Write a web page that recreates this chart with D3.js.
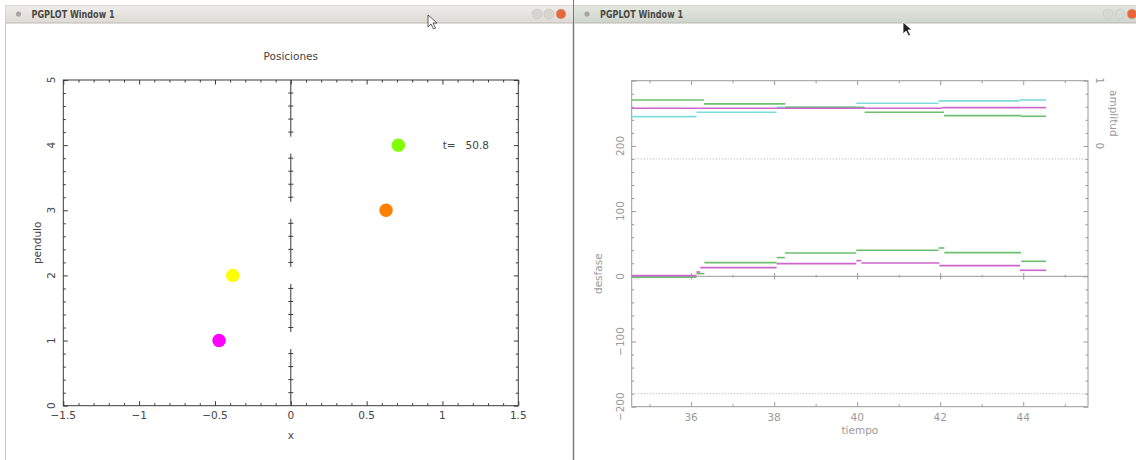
<!DOCTYPE html>
<html>
<head>
<meta charset="utf-8">
<script src="https://cdn.jsdelivr.net/npm/d3@7"></script>
<style>
  body { margin: 0; background: #fff; }
  text { font-family: "DejaVu Sans", sans-serif; }
</style>
</head>
<body>
<svg id="fig" width="1136" height="460"></svg>
<script>
// ---------- datos: ventana de posiciones ----------
const pendulos = [1, 2, 3, 4];
const posicionX = [-0.473, -0.383, 0.628, 0.709];
const coloresPendulo = ["#ff00ff", "#ffff00", "#ff8000", "#80ff00"];
const tiempoActual = 50.8;
const ticksX = [-1.5, -1, -0.5, 0, 0.5, 1, 1.5];
const ticksY = [0, 1, 2, 3, 4, 5];

// ---------- datos: ventana de desfase / amplitud ----------
// cada serie: limites de los tramos (tiempo) y valor del tramo
const tAmpVerde = [34.5, 36.31, 38.27, 40.18, 42.09, 43.95, 44.55];
const ampVerde  = [0.705, 0.644, 0.592, 0.515, 0.465, 0.454];
const tAmpCian  = [34.5, 36.13, 38.06, 39.98, 41.96, 43.91, 44.55];
const ampCian   = [0.449, 0.515, 0.592, 0.653, 0.690, 0.705];
const tAmpMagenta = [34.5, 36.2, 38.15, 40.1, 42.05, 43.95, 44.55];
const ampMagenta  = [0.577, 0.577, 0.577, 0.577, 0.587, 0.587];

const tDesVerde = [34.5, 36.13, 36.32, 38.06, 38.26, 39.98, 41.96, 42.1, 43.95, 44.55];
const desVerde  = [-1.3, 4.1, 21, 28.7, 35.8, 39.9, 43.4, 36.3, 23];
const tDesMagenta = [34.5, 36.13, 36.22, 38.06, 39.98, 40.1, 41.98, 43.92, 44.55];
const desMagenta  = [1.0, 6.6, 13.3, 19.5, 24, 20.4, 16.4, 9.2];

const ticksTiempo = [36, 38, 40, 42, 44];
const ticksDesfase = [-200, -100, 0, 100, 200];
const ticksAmplitud = [0, 1];
const lineasDotted = [-180, 180];

const verde = "#6cbf6c", magenta = "#cc66cc", cian = "#7ddcdc";

const svg = d3.select("#fig");
const menos = v => String(v).replace("-", "\u2212");

// ---------- ventanas ----------
function ventana(x0, x1, barra1, barra2) {
  let g = svg.append("g");
  let id = "grad" + x0;
  let grad = svg.append("defs").append("linearGradient")
      .attr("id", id).attr("x1", 0).attr("y1", 0).attr("x2", 0).attr("y2", 1);
  grad.append("stop").attr("offset", 0).attr("stop-color", barra1);
  grad.append("stop").attr("offset", 1).attr("stop-color", barra2);
  g.append("rect").attr("x", x0).attr("y", 5.5).attr("width", x1 - x0).attr("height", 460)
      .attr("fill", "#fff").attr("stroke", "#c9c6c2");
  g.append("rect").attr("x", x0).attr("y", 5.5).attr("width", x1 - x0).attr("height", 17.5)
      .attr("fill", "url(#" + id + ")");
  g.append("line").attr("x1", x0).attr("x2", x1).attr("y1", 23).attr("y2", 23)
      .attr("stroke", "#bdb9b3");
  g.append("circle").attr("cx", x0 + 13).attr("cy", 14).attr("r", 2.6).attr("fill", "#a9a6a2");
  g.append("text").attr("x", x0 + 26).attr("y", 18)
      .attr("font-size", 11).attr("font-weight", "bold").attr("fill", "#4a4844")
      .attr("textLength", 83).attr("lengthAdjust", "spacingAndGlyphs")
      .text("PGPLOT Window 1");
  return g;
}

let v1 = ventana(5.5, 573, "#eeece9", "#dedbd6");
let v2 = ventana(574, 1140, "#e2e6df", "#cfd5cc");
[[537, "#d8d5d0"], [549, "#d8d5d0"], [561, "#e8673a"]].forEach(b => {
  v1.append("circle").attr("cx", b[0]).attr("cy", 14).attr("r", 5).attr("fill", b[1])
    .attr("stroke", "#c7c3bd").attr("stroke-width", 0.6);
});
[[1108, "#d6dad3"], [1120, "#d6dad3"], [1132, "#e8673a"]].forEach(b => {
  v2.append("circle").attr("cx", b[0]).attr("cy", 14).attr("r", 5).attr("fill", b[1])
    .attr("stroke", "#c2c8bf").attr("stroke-width", 0.6);
});
svg.append("line").attr("x1", 573.5).attr("x2", 573.5).attr("y1", 0).attr("y2", 460)
    .attr("stroke", "#777");

// punteros del raton
function puntero(x, y, relleno) {
  svg.append("path")
    .attr("d", `M${x},${y} l0,12 l3,-3 l2.5,5 l2,-1 l-2.5,-5 l4,0 z`)
    .attr("fill", relleno).attr("stroke", relleno == "#fff" ? "#333" : "#fff").attr("stroke-width", 0.8);
}
puntero(428, 15, "#fff");
puntero(903, 22, "#222");

// ---------- grafico izquierdo: Posiciones ----------
const negro = "#3a3a3a";
let xP = d3.scaleLinear().domain([-1.5, 1.5]).range([63.3, 518.3]);
let yP = d3.scaleLinear().domain([0, 5]).range([405.7, 80]);
let izq = svg.append("g").attr("font-size", 10.5).attr("fill", "#444");

function marcas(g, eje, valores, largo, color) {
  g.call(eje.tickValues(valores).tickSize(largo).tickFormat(""));
  g.select(".domain").remove();
  g.selectAll("line").attr("stroke", color);
}
const menoresX = d3.range(-15, 16).filter(i => i % 5 != 0).map(i => i / 10);
const menoresY = d3.range(0, 26).filter(i => i % 5 != 0).map(i => i / 5);

marcas(izq.append("g").attr("transform", `translate(0,${yP(0)})`), d3.axisBottom(xP), ticksX, -4.5, negro);
marcas(izq.append("g").attr("transform", `translate(0,${yP(0)})`), d3.axisBottom(xP), menoresX, -2.5, negro);
marcas(izq.append("g").attr("transform", `translate(0,${yP(5)})`), d3.axisTop(xP), ticksX, -4.5, negro);
marcas(izq.append("g").attr("transform", `translate(0,${yP(5)})`), d3.axisTop(xP), menoresX, -2.5, negro);
marcas(izq.append("g").attr("transform", `translate(${xP(-1.5)},0)`), d3.axisLeft(yP), ticksY, -4.5, negro);
marcas(izq.append("g").attr("transform", `translate(${xP(-1.5)},0)`), d3.axisLeft(yP), menoresY, -2.5, negro);
marcas(izq.append("g").attr("transform", `translate(${xP(1.5)},0)`), d3.axisRight(yP), ticksY, -4.5, negro);
marcas(izq.append("g").attr("transform", `translate(${xP(1.5)},0)`), d3.axisRight(yP), menoresY, -2.5, negro);

izq.append("rect").attr("x", xP(-1.5)).attr("y", yP(5))
   .attr("width", xP(1.5) - xP(-1.5)).attr("height", yP(0) - yP(5))
   .attr("fill", "none").attr("stroke", negro);

izq.selectAll(".lx").data(ticksX).enter().append("text")
   .attr("x", d => xP(d)).attr("y", yP(0) + 13).attr("text-anchor", "middle")
   .text(menos);
izq.selectAll(".ly").data(ticksY).enter().append("text")
   .attr("transform", d => `translate(${xP(-1.5) - 8},${yP(d)}) rotate(-90)`)
   .attr("text-anchor", "middle").text(d => d);

// eje vertical de los pendulos en x = 0, con huecos en cada entero
let cuerda = izq.append("g").attr("stroke", negro);
ticksY.slice(0, -1).forEach(k => {
  let a = k == 0 ? k : k + 0.13, b = k == 4 ? k + 1 : k + 0.87;
  cuerda.append("line").attr("x1", xP(0)).attr("x2", xP(0)).attr("y1", yP(a)).attr("y2", yP(b));
  [0.2, 0.4, 0.6, 0.8].forEach(f => {
    cuerda.append("line").attr("x1", xP(0) - 2.5).attr("x2", xP(0) + 2.5)
      .attr("y1", yP(k + f)).attr("y2", yP(k + f));
  });
});

izq.selectAll("circle.pend").data(pendulos).enter().append("circle")
   .attr("class", "pend")
   .attr("cx", (d, i) => xP(posicionX[i])).attr("cy", d => yP(d))
   .attr("r", 6.7).attr("fill", (d, i) => coloresPendulo[i]);

izq.append("text").attr("x", 442.7).attr("y", yP(4) + 4).style("white-space", "pre")
   .text("t=   " + tiempoActual.toFixed(1));
izq.append("text").attr("x", xP(0)).attr("y", 60).attr("text-anchor", "middle").text("Posiciones");
izq.append("text").attr("x", xP(0)).attr("y", 439).attr("text-anchor", "middle").text("x");
izq.append("text").attr("transform", `translate(41,${yP(2.5)}) rotate(-90)`)
   .attr("text-anchor", "middle").text("pendulo");

// ---------- grafico derecho: desfase y amplitud ----------
const gris = "#9a9a9a";
let xT = d3.scaleLinear().domain([34.57, 45.56]).range([631.7, 1088]);
let yD = d3.scaleLinear().domain([-200, 300]).range([406.7, 80.7]);
let yA = d3.scaleLinear().domain([-4, 1]).range([406.7, 80.7]);
let der = svg.append("g").attr("font-size", 10.5).attr("fill", gris);

const menoresT = d3.range(35, 46, 2);
const menoresD = d3.range(-200, 301, 20).filter(v => v % 100 != 0);
const mayoresA = d3.range(-4, 2, 1);
const menoresA = d3.range(-20, 6).filter(i => i % 5 != 0).map(i => i / 5);

marcas(der.append("g").attr("transform", `translate(0,${yD(-200)})`), d3.axisBottom(xT), ticksTiempo, -4.5, gris);
marcas(der.append("g").attr("transform", `translate(0,${yD(-200)})`), d3.axisBottom(xT), menoresT, -2.5, gris);
marcas(der.append("g").attr("transform", `translate(0,${yD(300)})`), d3.axisTop(xT), ticksTiempo, -4.5, gris);
marcas(der.append("g").attr("transform", `translate(0,${yD(300)})`), d3.axisTop(xT), menoresT, -2.5, gris);
marcas(der.append("g").attr("transform", `translate(${xT.range()[0]},0)`), d3.axisLeft(yD), [-200, -100, 0, 100, 200, 300], -4.5, gris);
marcas(der.append("g").attr("transform", `translate(${xT.range()[0]},0)`), d3.axisLeft(yD), menoresD, -2.5, gris);
marcas(der.append("g").attr("transform", `translate(${xT.range()[1]},0)`), d3.axisRight(yA), mayoresA, -4.5, gris);
marcas(der.append("g").attr("transform", `translate(${xT.range()[1]},0)`), d3.axisRight(yA), menoresA, -2.5, gris);
// eje en desfase = 0 con marcas cruzadas
marcas(der.append("g").attr("transform", `translate(0,${yD(0) + 3.3})`), d3.axisBottom(xT), ticksTiempo, -6.6, gris);
marcas(der.append("g").attr("transform", `translate(0,${yD(0) + 1.3})`), d3.axisBottom(xT), menoresT, -2.6, gris);
der.append("line").attr("x1", xT.range()[0]).attr("x2", xT.range()[1])
   .attr("y1", yD(0)).attr("y2", yD(0)).attr("stroke", gris);

der.append("rect").attr("x", xT.range()[0]).attr("y", yD(300))
   .attr("width", xT.range()[1] - xT.range()[0]).attr("height", yD(-200) - yD(300))
   .attr("fill", "none").attr("stroke", gris);

der.selectAll("line.dot").data(lineasDotted).enter().append("line")
   .attr("class", "dot")
   .attr("x1", xT.range()[0]).attr("x2", xT.range()[1])
   .attr("y1", d => yD(d)).attr("y2", d => yD(d))
   .attr("stroke", "#aaa").attr("stroke-dasharray", "1,2");

// tramos horizontales de cada serie
function tramos(tiempos, valores, escala, color) {
  let datos = valores.map((v, i) => ({ t0: Math.max(tiempos[i], xT.domain()[0]), t1: tiempos[i + 1], v: v }));
  der.append("g").selectAll("line").data(datos).enter().append("line")
     .attr("x1", d => xT(d.t0)).attr("x2", d => xT(d.t1))
     .attr("y1", d => escala(d.v)).attr("y2", d => escala(d.v))
     .attr("stroke", color).attr("stroke-width", 1.6);
}
tramos(tAmpCian, ampCian, yA, cian);
tramos(tAmpVerde, ampVerde, yA, verde);
tramos(tAmpMagenta, ampMagenta, yA, magenta);
tramos(tDesVerde, desVerde, yD, verde);
tramos(tDesMagenta, desMagenta, yD, magenta);

der.selectAll(".lt").data(ticksTiempo).enter().append("text")
   .attr("x", d => xT(d)).attr("y", yD(-200) + 14).attr("text-anchor", "middle").text(d => d);
der.selectAll(".ld").data(ticksDesfase).enter().append("text")
   .attr("transform", d => `translate(${xT.range()[0] - 8},${yD(d)}) rotate(-90)`)
   .attr("text-anchor", "middle").text(menos);
der.selectAll(".la").data(ticksAmplitud).enter().append("text")
   .attr("transform", d => `translate(${xT.range()[1] + 8},${yA(d)}) rotate(90)`)
   .attr("text-anchor", "middle").text(d => d);
der.append("text").attr("x", (xT.range()[0] + xT.range()[1]) / 2).attr("y", 434)
   .attr("text-anchor", "middle").text("tiempo");
der.append("text").attr("transform", `translate(602,${yD(4)}) rotate(-90)`)
   .attr("text-anchor", "middle").text("desfase");
der.append("text").attr("transform", `translate(1110,${yA(0.5)}) rotate(90)`)
   .attr("text-anchor", "middle").text("amplitud");
</script>
</body>
</html>
